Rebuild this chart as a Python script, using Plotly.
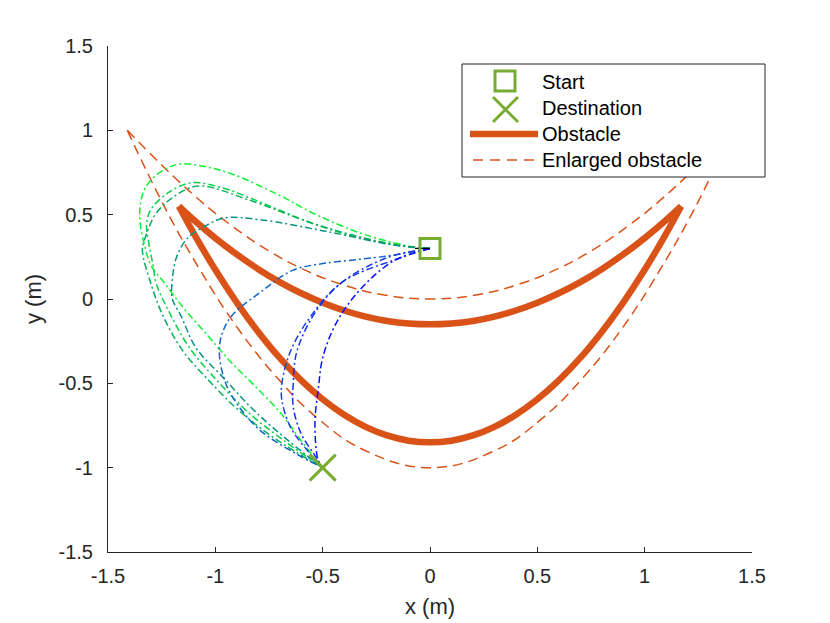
import plotly.graph_objects as go

# start / destination / heading
start_xy = [0.0, 0.30]
dest_xy = [-0.5, -1.0]
heading_x = [-0.07, 0.0]
heading_y = [0.30, 0.30]

# obstacle (solid crescent): outer arc and inner arc
obs_x = [-1.17, -1.1, -1.0, -0.9, -0.8, -0.7, -0.6, -0.5, -0.4, -0.3, -0.2, -0.1, 0.0,
         0.1, 0.2, 0.3, 0.4, 0.5, 0.6, 0.7, 0.8, 0.9, 1.0, 1.1, 1.17]
obs_outer_y = [0.550, 0.388, 0.173, -0.021, -0.195, -0.349, -0.482, -0.594, -0.686, -0.758, -0.809, -0.840, -0.850,
               -0.840, -0.809, -0.758, -0.686, -0.594, -0.482, -0.349, -0.195, -0.021, 0.173, 0.388, 0.550]
obs_inner_y = [0.550, 0.468, 0.361, 0.264, 0.177, 0.100, 0.034, -0.022, -0.068, -0.104, -0.130, -0.145, -0.150,
               -0.145, -0.130, -0.104, -0.068, -0.022, 0.034, 0.100, 0.177, 0.264, 0.361, 0.468, 0.550]

# enlarged obstacle (dashed): outer arc and inner arc
enl_outer_x = [-1.41, -1.23, -1.07, -0.9, -0.71, -0.53, -0.3, 0.0, 0.3, 0.53, 0.71, 0.9, 1.07, 1.23, 1.41]
enl_outer_y = [1.0, 0.53, 0.17, -0.165, -0.47, -0.70, -0.90, -1.0, -0.90, -0.70, -0.47, -0.165, 0.17, 0.53, 1.0]
enl_inner_x = [-1.41, -1.13, -0.93, -0.75, -0.6, -0.42, -0.22, 0.0, 0.22, 0.42, 0.6, 0.75, 0.93, 1.13, 1.41]
enl_inner_y = [1.0, 0.65, 0.44, 0.285, 0.182, 0.09, 0.025, 0.0, 0.025, 0.09, 0.182, 0.285, 0.44, 0.65, 1.0]

# candidate trajectories (start -> destination)
traj_colors = ['#10f030', '#0ad044', '#08ae5e', '#0a9480', '#1066c8', '#1840e4', '#1230f2', '#0814ff']
traj_x = [
    [0.0, -0.06, -0.3, -0.53, -0.71, -0.92, -1.05, -1.17, -1.27, -1.33, -1.35, -1.35, -1.33, -1.30,
     -1.24, -1.15, -1.04, -0.93, -0.82, -0.70, -0.60, -0.5],
    [0.0, -0.1, -0.3, -0.53, -0.84, -0.97, -1.11, -1.22, -1.30, -1.32, -1.31, -1.29, -1.275,
     -1.21, -1.12, -0.98, -0.84, -0.68, -0.5],
    [0.0, -0.1, -0.3, -0.55, -0.85, -1.08, -1.20, -1.28, -1.33, -1.34, -1.30, -1.24, -1.15,
     -1.04, -0.90, -0.72, -0.5],
    [0.0, -0.17, -0.48, -0.79, -0.96, -1.05, -1.13, -1.18, -1.20, -1.20, -1.16, -1.09, -0.96,
     -0.82, -0.66, -0.5],
    [0.0, -0.17, -0.33, -0.5, -0.64, -0.79, -0.93, -0.98, -0.96, -0.90, -0.79, -0.62, -0.5],
    [0.0, -0.2, -0.42, -0.56, -0.65, -0.69, -0.69, -0.65, -0.57, -0.5],
    [0.0, -0.17, -0.40, -0.53, -0.62, -0.637, -0.637, -0.60, -0.54, -0.5],
    [0.0, -0.17, -0.33, -0.44, -0.50, -0.52, -0.536, -0.52, -0.5],
]
traj_y = [
    [0.30, 0.305, 0.38, 0.50, 0.62, 0.74, 0.785, 0.80, 0.74, 0.65, 0.55, 0.45, 0.32, 0.20,
     0.10, -0.05, -0.21, -0.37, -0.51, -0.67, -0.84, -1.0],
    [0.30, 0.31, 0.355, 0.44, 0.60, 0.66, 0.69, 0.63, 0.53, 0.45, 0.33, 0.20, 0.09,
     -0.09, -0.29, -0.50, -0.68, -0.84, -1.0],
    [0.30, 0.31, 0.36, 0.45, 0.59, 0.67, 0.60, 0.50, 0.35, 0.29, 0.09, -0.11, -0.31,
     -0.47, -0.65, -0.83, -1.0],
    [0.30, 0.32, 0.40, 0.47, 0.48, 0.43, 0.36, 0.25, 0.12, 0.0, -0.10, -0.29, -0.47,
     -0.66, -0.84, -1.0],
    [0.30, 0.26, 0.235, 0.21, 0.17, 0.04, -0.11, -0.27, -0.47, -0.62, -0.78, -0.92, -1.0],
    [0.30, 0.245, 0.09, -0.11, -0.31, -0.5, -0.6, -0.76, -0.90, -1.0],
    [0.30, 0.23, 0.107, -0.07, -0.31, -0.5, -0.64, -0.80, -0.92, -1.0],
    [0.30, 0.225, 0.05, -0.15, -0.35, -0.53, -0.74, -0.96, -1.0],
]

tick_vals = [-1.5, -1, -0.5, 0, 0.5, 1, 1.5]
tick_text = ['-1.5', '-1', '-0.5', '0', '0.5', '1', '1.5']
legend_labels = ['Start', 'Destination', 'Obstacle', 'Enlarged obstacle']

orange = '#d95319'
green = '#77ac30'
axis_col = '#262626'
font_family = 'Liberation Sans, Arial, Helvetica, sans-serif'

fig = go.Figure()

for ay_ in [obs_outer_y, obs_inner_y]:
    fig.add_trace(go.Scatter(
        x=obs_x, y=ay_, mode='lines', name='Obstacle', showlegend=False,
        line=dict(color=orange, width=6.5, shape='spline', smoothing=1.0)
    ))
for ax_, ay_ in [(enl_outer_x, enl_outer_y), (enl_inner_x, enl_inner_y)]:
    fig.add_trace(go.Scatter(
        x=ax_, y=ay_, mode='lines', name='Enlarged obstacle', showlegend=False,
        line=dict(color=orange, width=1.5, dash='10px,6px', shape='spline', smoothing=1.2)
    ))

for tx, ty, c in zip(traj_x, traj_y, traj_colors):
    fig.add_trace(go.Scatter(
        x=tx, y=ty, mode='lines', showlegend=False, hoverinfo='skip',
        line=dict(color=c, width=1.5, dash='7px,3px,2px,3px', shape='spline', smoothing=1.0)
    ))

fig.add_trace(go.Scatter(
    x=heading_x, y=heading_y, mode='lines', showlegend=False,
    line=dict(color='black', width=1.3)
))

fig.add_trace(go.Scatter(
    x=[start_xy[0]], y=[start_xy[1]], mode='markers', name='Start', showlegend=False,
    marker=dict(symbol='square-open', size=20, color=green, line=dict(width=3, color=green))
))
fig.add_trace(go.Scatter(
    x=[dest_xy[0]], y=[dest_xy[1]], mode='markers', name='Destination', showlegend=False,
    marker=dict(symbol='x-thin-open', size=26, color=green, line=dict(width=3, color=green))
))

axis_common = dict(
    range=[-1.5, 1.5], tickvals=tick_vals, ticktext=tick_text,
    ticks='inside', ticklen=5, tickcolor=axis_col, showline=True, linecolor=axis_col,
    linewidth=1, showgrid=False, zeroline=False, mirror=False,
    tickfont=dict(size=20, color=axis_col, family=font_family)
)
fig.update_xaxes(**axis_common, ticklabelstandoff=6)
fig.update_yaxes(**axis_common, ticklabelstandoff=10)

# legend box drawn in paper coordinates (MATLAB-style wide symbols)
def px(v):
    return (v - 108) / 644.0

def py(v):
    return (552 - v) / 506.0

shapes = [
    dict(type='rect', xref='paper', yref='paper', x0=px(462), x1=px(765), y0=py(177), y1=py(64),
         fillcolor='white', line=dict(color=axis_col, width=1), layer='above'),
    dict(type='rect', xref='paper', yref='paper', x0=px(495), x1=px(515), y0=py(91), y1=py(71),
         line=dict(color=green, width=3), layer='above'),
    dict(type='line', xref='paper', yref='paper', x0=px(493), x1=px(518), y0=py(97), y1=py(122),
         line=dict(color=green, width=3), layer='above'),
    dict(type='line', xref='paper', yref='paper', x0=px(493), x1=px(518), y0=py(122), y1=py(97),
         line=dict(color=green, width=3), layer='above'),
    dict(type='line', xref='paper', yref='paper', x0=px(470), x1=px(538), y0=py(134), y1=py(134),
         line=dict(color=orange, width=6.5), layer='above'),
    dict(type='line', xref='paper', yref='paper', x0=px(473), x1=px(534), y0=py(160), y1=py(160),
         line=dict(color=orange, width=1.5, dash='10px,7px'), layer='above'),
]

annotations = []
for lbl, ly in zip(legend_labels, [82, 108, 134, 160]):
    annotations.append(dict(
        text=lbl, xref='paper', yref='paper', x=px(540), y=py(ly), xanchor='left', yanchor='middle',
        showarrow=False, font=dict(size=20, color='black', family=font_family)
    ))
annotations.append(dict(
    text='x (m)', xref='paper', yref='paper', x=0.5, y=py(606), xanchor='center', yanchor='middle',
    showarrow=False, font=dict(size=22, color=axis_col, family=font_family)
))
annotations.append(dict(
    text='y (m)', xref='paper', yref='paper', x=px(33), y=0.5, xanchor='center', yanchor='middle',
    textangle=-90, showarrow=False, font=dict(size=22, color=axis_col, family=font_family)
))

# page body adds 8px; figure sized so plot area lands where the reference axes are
fig.update_layout(
    width=822, height=615,
    margin=dict(l=100, r=78, t=38, b=71),
    paper_bgcolor='white', plot_bgcolor='white',
    font=dict(family=font_family, color=axis_col),
    showlegend=False,
    shapes=shapes,
    annotations=annotations,
)

fig.write_html("out.html")
